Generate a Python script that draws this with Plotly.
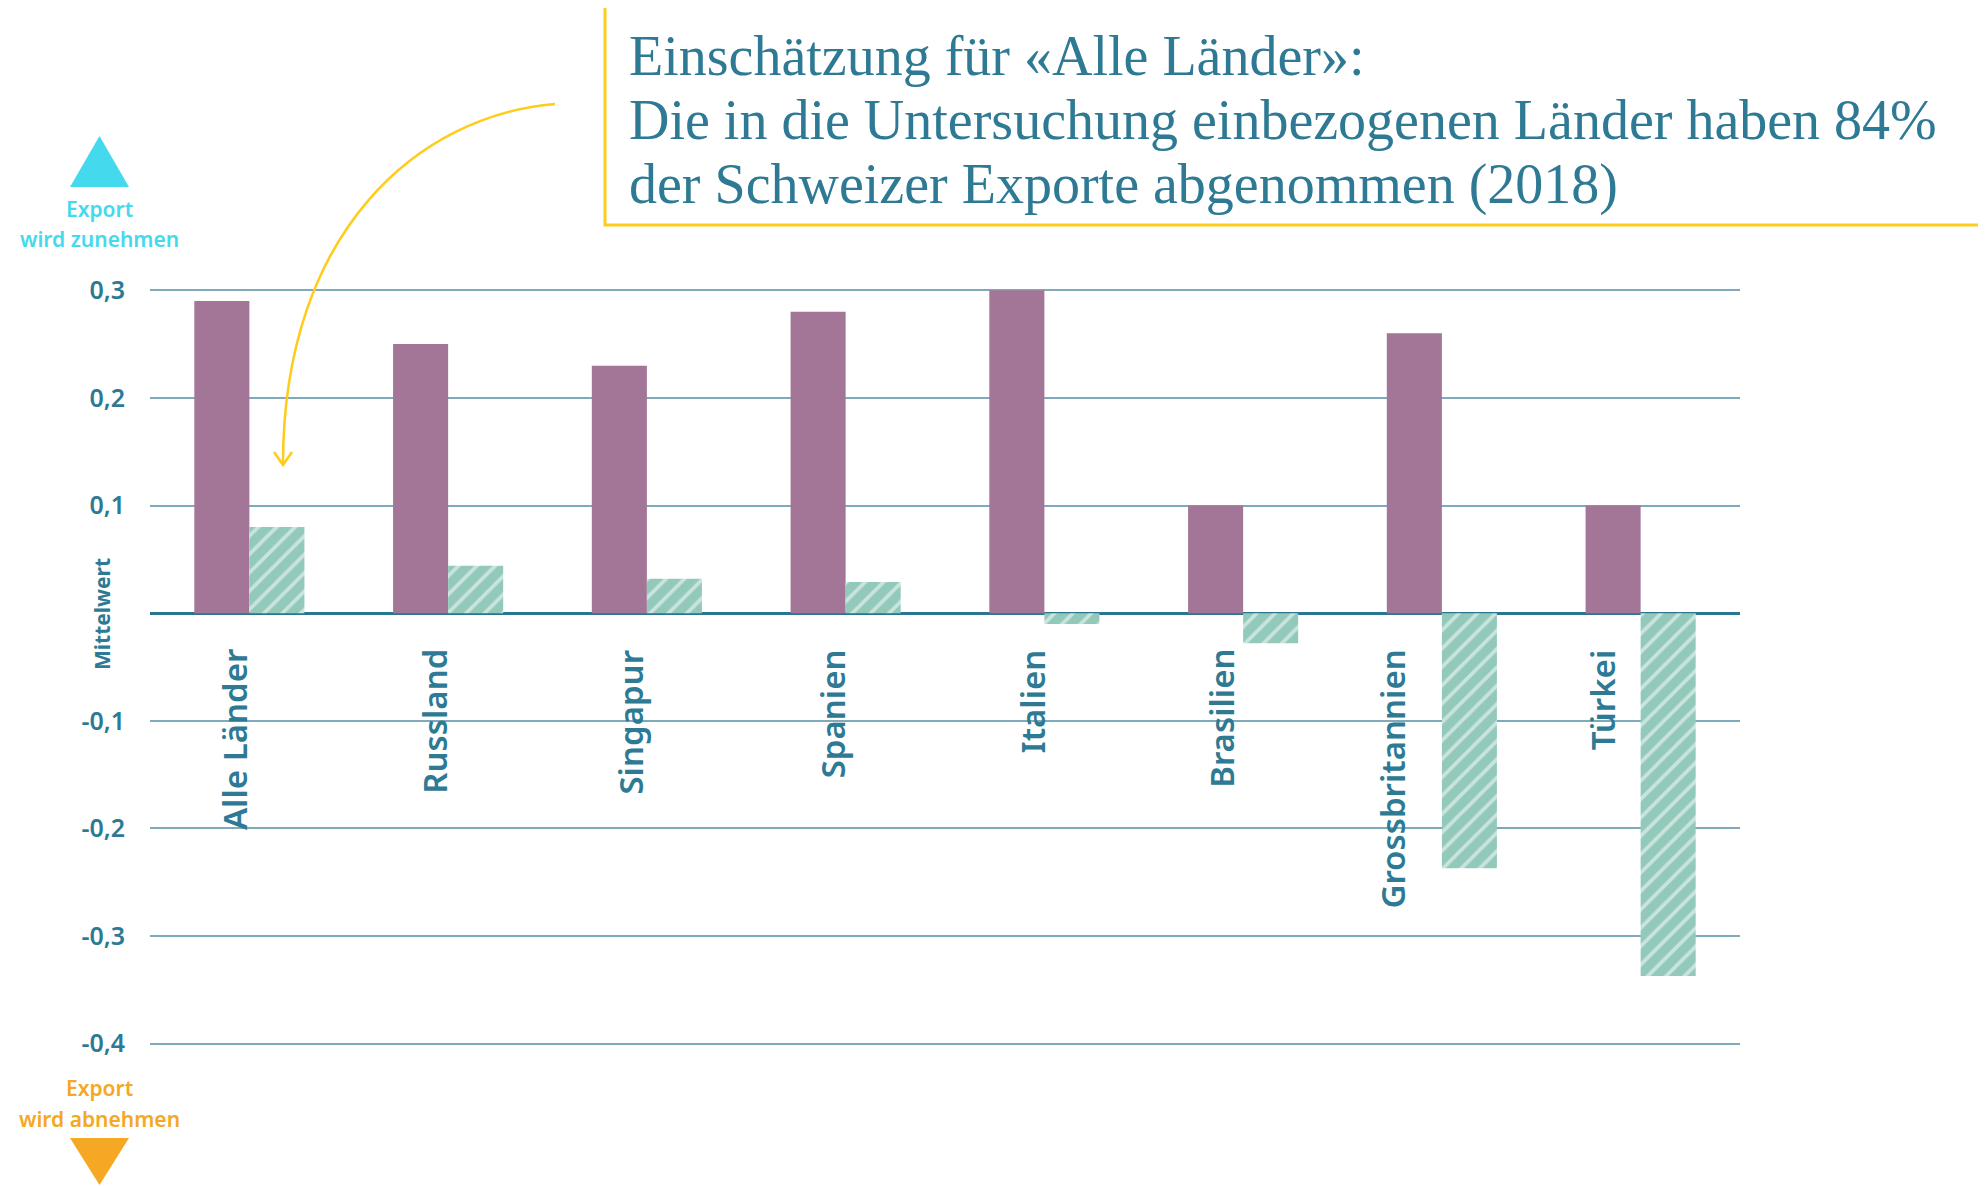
import plotly.graph_objects as go

# ---------------- data ----------------
categories = ["Alle Länder", "Russland", "Singapur", "Spanien", "Italien",
              "Brasilien", "Grossbritannien", "Türkei"]
series_a = [0.29, 0.25, 0.23, 0.28, 0.30, 0.10, 0.26, 0.10]          # purple
series_b = [0.08, 0.044, 0.032, 0.029, -0.01, -0.028, -0.237, -0.337]  # hatched green
tick_vals = [0.3, 0.2, 0.1, -0.1, -0.2, -0.3, -0.4]
tick_labels = ["0,3", "0,2", "0,1", "-0,1", "-0,2", "-0,3", "-0,4"]

title_lines = ["Einschätzung für «Alle Länder»:",
               "Die in die Untersuchung einbezogenen Länder haben 84%",
               "der Schweizer Exporte abgenommen (2018)"]

# label horizontal offsets (styling, px)
label_dx = [-15, -13, -16, -13, -12, -21, -49, -38]

# ---------------- layout geometry ----------------
OFF = 8  # page body margin
W, H = 1978, 1178
ML, MR, MT, MB = 142, 246, 278, 138
PW, PH = W - ML - MR, H - MT - MB

def px(x):
    return (x - OFF - ML) / PW

def py(y):
    return (H - MB - (y - OFF)) / PH

TEAL = "#2e7a94"
PURPLE = "#a37596"
GREEN = "#93c9bb"
CYAN = "#45d9ee"
ORANGE = "#f4a823"
YELLOW = "#ffcc1a"

fig = go.Figure()
fig.add_trace(go.Bar(x=categories, y=series_a, marker=dict(color=PURPLE, line=dict(width=0)),
                     showlegend=False, hoverinfo="skip"))
fig.add_trace(go.Bar(x=categories, y=series_b,
                     marker=dict(color=GREEN, line=dict(width=0),
                                 pattern=dict(shape="/", fgcolor="white", bgcolor=GREEN,
                                              size=13, solidity=0.28)),
                     showlegend=False, hoverinfo="skip"))

annotations = []
for i, c in enumerate(categories):
    annotations.append(dict(x=c, y=0, xref="x", yref="y", text=c, showarrow=False,
                            textangle=-90, xanchor="center", yanchor="top",
                            yshift=-34, xshift=label_dx[i],
                            font=dict(family="Noto Sans", size=33, color=TEAL, weight=600)))

# title box lines
for i, t in enumerate(title_lines):
    annotations.append(dict(x=px(627), y=py([56, 120, 185][i]), xref="paper", yref="paper",
                            text=t, showarrow=False, xanchor="left", yanchor="middle",
                            font=dict(family="Liberation Serif", size=56, color=TEAL)))

# Export labels
for txt, yy, col in [("Export", 209, CYAN), ("wird zunehmen", 239, CYAN),
                     ("Export", 1088, ORANGE), ("wird abnehmen", 1119, ORANGE)]:
    annotations.append(dict(x=px(99.5), y=py(yy), xref="paper", yref="paper", text=txt,
                            showarrow=False, xanchor="center", yanchor="middle",
                            font=dict(family="Noto Sans", size=21, color=col, weight=600)))

annotations.append(dict(x=px(102), y=py(614), xref="paper", yref="paper", text="Mittelwert",
                        showarrow=False, textangle=-90, xanchor="center", yanchor="middle",
                        font=dict(family="Noto Sans", size=21, color=TEAL, weight=700)))

def path(points, close=True):
    s = "M " + " L ".join(f"{px(a):.5f},{py(b):.5f}" for a, b in points)
    return s + (" Z" if close else "")

shapes = [
    dict(type="path", xref="paper", yref="paper",
         path=path([(70, 187), (129, 187), (99.5, 136)]), fillcolor=CYAN, line=dict(width=0)),
    dict(type="path", xref="paper", yref="paper",
         path=path([(70, 1138), (129, 1138), (99.5, 1185)]), fillcolor=ORANGE, line=dict(width=0)),
    dict(type="rect", xref="paper", yref="paper", x0=px(605), x1=px(2005), y0=py(6), y1=py(225),
         line=dict(color=YELLOW, width=3), fillcolor="rgba(0,0,0,0)"),
    dict(type="path", xref="paper", yref="paper",
         path=(f"M {px(555):.5f},{py(104):.5f} C {px(420):.5f},{py(115):.5f} "
               f"{px(283):.5f},{py(230):.5f} {px(283):.5f},{py(464):.5f}"),
         line=dict(color=YELLOW, width=2.5)),
    dict(type="path", xref="paper", yref="paper",
         path=path([(274, 452), (283, 465), (292, 452)], close=False),
         line=dict(color=YELLOW, width=2.5)),
]

fig.update_layout(
    width=W, height=H,
    margin=dict(l=ML, r=MR, t=MT, b=MB),
    paper_bgcolor="white", plot_bgcolor="white",
    barmode="group", bargap=0.446, bargroupgap=0,
    annotations=annotations, shapes=shapes,
    xaxis=dict(range=[-0.5, 7.5], showticklabels=False, showgrid=False, zeroline=False,
               showline=False, ticks=""),
    yaxis=dict(range=[-0.404, 0.304], tickvals=tick_vals, ticktext=tick_labels,
               showgrid=True, gridcolor="#7eaabb", gridwidth=1.5,
               zeroline=True, zerolinecolor="#2b7590", zerolinewidth=3,
               showline=False, ticks="", ticklabelstandoff=24,
               tickfont=dict(family="Noto Sans", size=25, color=TEAL, weight=600)),
)

fig.write_html("out.html")
